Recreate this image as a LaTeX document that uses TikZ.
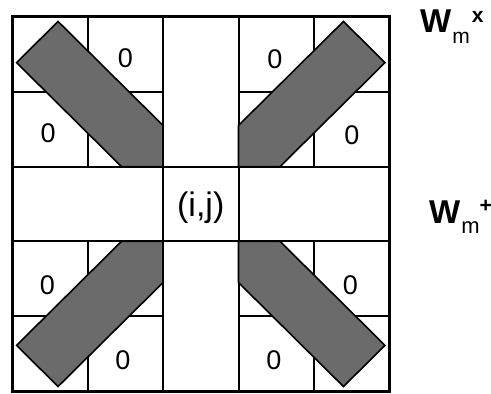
\documentclass[tikz,border=0pt]{standalone}
\usepackage{fontspec}
\setmainfont{Liberation Sans}
\usetikzlibrary{positioning}

\begin{document}
\begin{tikzpicture}[
  x=37.75pt, y=-37.4pt,
  cell/.style={draw=black, line width=1pt},
  frame/.style={draw=black, line width=1.5pt},
  bar/.style={draw=black, line width=0.8pt, fill=black!58},
  zero/.style={font=\fontsize{13.5}{16}\selectfont, inner sep=0pt},
  centre/.style={font=\fontsize{17}{20}\selectfont, inner sep=0pt},
  wlabel/.style={font=\fontsize{16.5}{20}\selectfont\bfseries, anchor=base west, inner sep=0pt}
]
\useasboundingbox (-0.159,-0.227) rectangle (6.344,5.027);
% small cells of the four corner blocks
\foreach \i in {0,1,3,4}
  \foreach \j in {0,1,3,4}
    \draw[cell] (\i,\j) rectangle ++(1,1);
% the cross through the centre
\draw[cell] (2,0) rectangle (3,2);
\draw[cell] (2,3) rectangle (3,5);
\draw[cell] (0,2) rectangle (2,3);
\draw[cell] (3,2) rectangle (5,3);
% diagonal bars, one per corner block
\foreach \sx/\sy in {1/1,-1/1,1/-1,-1/-1}
  \draw[bar, shift={(2.5,2.5)}, xscale=\sx, yscale=\sy]
    (-2.44,-1.89) -- (-1.89,-2.44) -- (-0.5,-1.05) -- (-0.5,-0.5) -- (-1.05,-0.5) -- cycle;
\draw[frame] (0,0) rectangle (5,5);
\node[centre] (ij) at (2.5,2.55) {(i,j)};
\node[zero] (z1) at (1.5,0.55) {0};
\node[zero] (z2) at (0.48,1.55) {0};
\node[zero] (z3) at (3.48,0.56) {0};
\node[zero] (z4) at (4.5,1.58) {0};
\node[zero] (z5) at (0.47,3.58) {0};
\node[zero] (z6) at (1.47,4.59) {0};
\node[zero] (z7) at (4.48,3.58) {0};
\node[zero] (z8) at (3.47,4.59) {0};
\node[wlabel] (wx) at (5.40,0.21)
  {W\hspace{0.5pt}\raisebox{-5.5pt}{\fontsize{10.5}{12}\selectfont\mdseries m}\hspace{1pt}\raisebox{5pt}{\fontsize{10.5}{12}\selectfont x}};
\node[wlabel] (wplus) at (5.52,2.754)
  {W\hspace{0.5pt}\raisebox{-5pt}{\fontsize{11}{13}\selectfont\mdseries m}\raisebox{5.5pt}{\fontsize{10.5}{12}\selectfont +}};
\end{tikzpicture}
\end{document}
